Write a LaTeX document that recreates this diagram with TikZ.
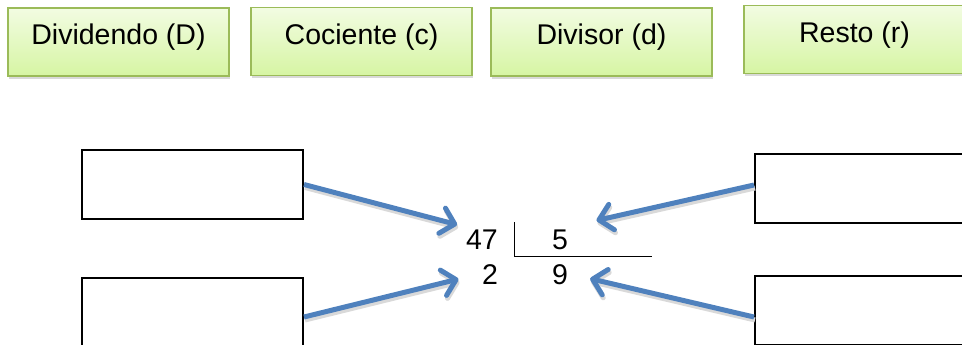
\documentclass[tikz,border=0pt]{standalone}
\usepackage{fontspec}
\setmainfont{Liberation Sans}
\usetikzlibrary{arrows.meta,shadows}

\definecolor{boxgreen}{RGB}{155,187,89}
\definecolor{boxtop}{RGB}{242,252,226}
\definecolor{boxbottom}{RGB}{214,245,163}
\definecolor{arrowblue}{RGB}{79,129,189}

\begin{document}
\begin{tikzpicture}[x=1pt, y=-1pt, font=\fontsize{28.5}{34}\selectfont,
    namebox/.style={rectangle, draw=boxgreen, line width=1.3pt, top color=boxtop, bottom color=boxbottom,
      minimum width=221pt, minimum height=68pt, text height=20pt, text depth=14pt,
      drop shadow={opacity=0.3, shadow xshift=1pt, shadow yshift=-3pt}},
    answerbox/.style={rectangle, draw, line width=2pt, fill=white, minimum width=221pt, minimum height=69pt},
    num/.style={anchor=base, inner sep=3pt},
    flecha/.style={draw=arrowblue, line width=5pt, -{Straight Barb[length=13pt, width=26pt, round]},
      preaction={draw=black!15, line width=5pt, transform canvas={xshift=1pt, yshift=-3pt}}}]
    \clip (0,0) rectangle (962,345);

    % 名前の箱
    \node[namebox] (D) at (118.5, 42) {Dividendo (D)};
    \node[namebox] (c) at (361.5, 41.5) {Cociente (c)};
    \node[namebox] (d) at (601.5, 42) {Divisor (d)};
    \node[namebox] (r) at (854.5, 39.5) {Resto (r)};

    % 空の箱
    \node[answerbox] (B1) at (192.5, 184.5) {};
    \node[answerbox] (B2) at (192.5, 312.5) {};
    \node[answerbox] (B3) at (865.5, 188) {};
    \node[answerbox] (B4) at (865.5, 310.5) {};

    % 割り算
    \node[num] (n47) at (482, 249) {47};
    \node[num] (n5) at (560, 249) {5};
    \node[num] (n2) at (490, 284) {2};
    \node[num] (n9) at (560, 284) {9};
    \draw[line width=1pt] (514, 222) -- (514, 256) -- (652, 256);

    % 矢印
    \draw[flecha, shorten >=6pt] (B1.east) -- (n47.north west);
    \draw[flecha, shorten >=21pt] ([yshift=-4.5pt]B2.east) -- (n2.west);
    \draw[flecha, shorten >=26pt] ([yshift=3pt]B3.west) -- (n5.north east);
    \draw[flecha, shorten >=19.5pt] ([yshift=-6.5pt]B4.west) -- (n9.east);

\end{tikzpicture}
\end{document}
